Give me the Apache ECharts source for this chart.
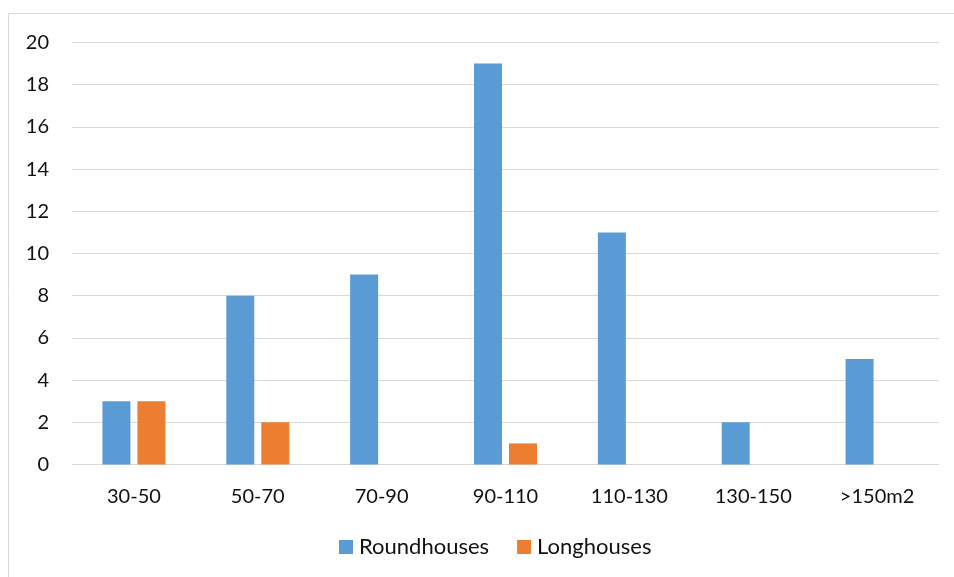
<!DOCTYPE html>
<html>
<head>
<meta charset="utf-8">
<script src="https://cdn.jsdelivr.net/npm/echarts@6/dist/echarts.min.js"></script>
<style>
  html, body { margin: 0; padding: 0; background: #fff; }
  #chart { width: 954px; height: 577px; }
</style>
</head>
<body>
<div id="chart"></div>
<script>
// House floor-area classes and counts per house type
const categories = ['30-50', '50-70', '70-90', '90-110', '110-130', '130-150', '>150m2'];
const roundhouses = [3, 8, 9, 19, 11, 2, 5];
const longhouses = [3, 2, 0, 1, 0, 0, 0];
const yTicks = { min: 0, max: 20, interval: 2 };

const font = 'Lato, "Noto Sans", sans-serif';
const textColor = '#111111';
const chart = echarts.init(document.getElementById('chart'));
chart.setOption({
  animation: false,
  backgroundColor: '#ffffff',
  textStyle: { fontFamily: font },
  graphic: [{
    type: 'rect',
    shape: { x: 8.5, y: 13.5, width: 960, height: 600 },
    style: { fill: 'none', stroke: '#d9d9d9', lineWidth: 1 },
    silent: true
  }],
  grid: { left: 72, right: 15, top: 42.5, bottom: 112.5, containLabel: false },
  legend: {
    bottom: 14,
    left: 334,
    itemWidth: 14,
    itemHeight: 14,
    itemGap: 28,
    icon: 'rect',
    textStyle: { fontFamily: font, fontSize: 22, color: textColor, padding: [0, 0, 0, 1] },
    data: ['Roundhouses', 'Longhouses']
  },
  xAxis: {
    type: 'category',
    data: categories,
    axisLine: { lineStyle: { color: '#d9d9d9', width: 1 } },
    axisTick: { show: false },
    axisLabel: { fontFamily: font, fontSize: 20, color: textColor, margin: 22 }
  },
  yAxis: {
    type: 'value',
    min: yTicks.min,
    max: yTicks.max,
    interval: yTicks.interval,
    axisLine: { show: false },
    axisTick: { show: false },
    axisLabel: { fontFamily: font, fontSize: 20, color: textColor, margin: 23 },
    splitLine: { lineStyle: { color: '#d9d9d9', width: 1 } }
  },
  series: [
    {
      name: 'Roundhouses',
      type: 'bar',
      data: roundhouses,
      barWidth: 28,
      barGap: '25%',
      itemStyle: { color: '#5b9bd5' }
    },
    {
      name: 'Longhouses',
      type: 'bar',
      data: longhouses,
      barWidth: 28,
      barGap: '25%',
      itemStyle: { color: '#ed7d31' }
    }
  ]
});
</script>
</body>
</html>
